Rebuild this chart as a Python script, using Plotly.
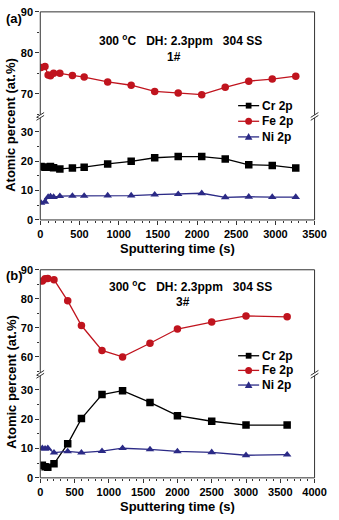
import plotly.graph_objects as go

W, H = 339, 520

# ---- panel (a): sample 1# ----
t_a = [10, 60, 100, 130, 170, 250, 410, 560, 860, 1160, 1460, 1760, 2060, 2360, 2660, 2960, 3260]
cr_a = [18.2, 18.0, 18.0, 18.2, 17.8, 17.4, 17.7, 18.0, 19.1, 20.0, 21.2, 21.6, 21.6, 20.8, 18.8, 18.6, 17.7]
fe_a = [76.4, 76.7, 74.6, 74.4, 75.0, 75.0, 74.5, 74.1, 72.9, 72.1, 70.6, 70.2, 69.8, 71.6, 73.1, 73.6, 74.3]
ni_a = [5.8, 6.2, 7.8, 8.0, 7.8, 8.1, 8.2, 8.2, 8.3, 8.3, 8.6, 8.8, 9.1, 7.7, 7.9, 7.8, 7.8]

# ---- panel (b): sample 3# ----
t_b = [30, 70, 110, 200, 400, 600, 900, 1200, 1600, 2000, 2500, 3000, 3600]
cr_b = [4.3, 3.8, 3.6, 4.8, 11.6, 20.2, 28.4, 29.7, 25.7, 21.2, 19.3, 18.0, 18.0]
fe_b = [86.1, 86.9, 87.0, 86.6, 79.3, 70.8, 62.2, 60.0, 64.7, 69.6, 72.0, 74.1, 73.8]
ni_b = [10.1, 9.9, 10.1, 8.6, 9.0, 8.6, 9.1, 10.1, 9.7, 9.0, 8.7, 7.7, 7.9]

names = ["Cr 2p", "Fe 2p", "Ni 2p"]
colors = ["#000000", "#c0141e", "#2b2a86"]
symbols = ["square", "circle", "triangle-up"]

FONT = "Liberation Sans, Arial, sans-serif"
AX = "#333333"


def px(x):
    return x / W


def py(y):
    return 1 - y / H


fig = go.Figure()

# series values paired with their y axis (lower / upper segment of the broken axis)
panel_a = [(cr_a, "y"), (fe_a, "y2"), (ni_a, "y")]
panel_b = [(cr_b, "y3"), (fe_b, "y4"), (ni_b, "y3")]

for xs, xa, panel in [(t_a, "x", panel_a), (t_b, "x2", panel_b)]:
    for i, (vals, ya) in enumerate(panel):
        fig.add_trace(go.Scatter(
            x=xs, y=vals, name=names[i], xaxis=xa, yaxis=ya, mode="lines+markers",
            line=dict(color=colors[i], width=1.3),
            marker=dict(symbol=symbols[i], size=7.5, color=colors[i]),
            showlegend=False,
        ))

x_dom = [px(39), px(326)]
tickfont = dict(family=FONT, size=11, color="black", weight="bold")

common_x = dict(domain=x_dom, ticks="outside", ticklen=4, tickwidth=1, tickcolor=AX,
                showgrid=False, zeroline=False, showline=False, tickfont=tickfont,
                minor=dict(ticks="outside", ticklen=2, dtick=100, tickcolor=AX, showgrid=False))
common_y = dict(ticks="outside", ticklen=4, tickwidth=1, tickcolor=AX,
                showgrid=False, zeroline=False, showline=False, tickfont=tickfont,
                minor=dict(ticks="outside", ticklen=2, dtick=5, tickcolor=AX, showgrid=False))

# panel (a) frame: top 6, break 113, bottom 219
# panel (b) frame: top 270, break 377, bottom 483
a_top, a_brk, a_bot = 6, 113, 219
b_top, b_brk, b_bot = 270, 377, 483

fig.update_layout(
    width=W, height=H,
    margin=dict(l=0, r=0, t=0, b=0),
    paper_bgcolor="white", plot_bgcolor="white",
    font=dict(family=FONT, color="black"),
    showlegend=False,
    xaxis=dict(common_x, anchor="y", range=[0, 3500], dtick=500),
    yaxis=dict(common_y, anchor="x", domain=[py(a_bot), py(a_brk)], range=[0, 35.3], dtick=10),
    yaxis2=dict(common_y, anchor="x", domain=[py(a_brk), py(a_top)], range=[64.5, 90], dtick=10),
    xaxis2=dict(common_x, anchor="y3", range=[0, 4000], dtick=500),
    yaxis3=dict(common_y, anchor="x2", domain=[py(b_bot), py(b_brk)], range=[0, 35.3], dtick=10),
    yaxis4=dict(common_y, anchor="x2", domain=[py(b_brk), py(b_top)], range=[54, 90], dtick=10),
)

shapes = []
for top, bot in [(a_top, a_bot), (b_top, b_bot)]:
    shapes.append(dict(type="rect", xref="paper", yref="paper",
                       x0=px(39), x1=px(326), y0=py(bot), y1=py(top),
                       line=dict(color=AX, width=1), fillcolor="rgba(0,0,0,0)"))

# axis-break marks on both vertical frame lines
for brk in (a_brk, b_brk):
    for xc in (39, 326):
        shapes.append(dict(type="rect", xref="paper", yref="paper",
                           x0=px(xc - 2), x1=px(xc + 2), y0=py(brk + 1.5), y1=py(brk - 1.5),
                           line=dict(width=0), fillcolor="white"))
        for dy in (-1.5, 1.5):
            shapes.append(dict(type="line", xref="paper", yref="paper",
                               x0=px(xc - 4), y0=py(brk + dy + 2.5),
                               x1=px(xc + 4), y1=py(brk + dy - 2.5),
                               line=dict(color=AX, width=1)))

bold13 = dict(family=FONT, size=13, color="black", weight="bold")
bold12 = dict(family=FONT, size=12, color="black", weight="bold")


def note(text, x, y, font, angle=0, anchor="center"):
    fig.add_annotation(text=text, xref="paper", yref="paper", x=px(x), y=py(y),
                       xanchor=anchor, yanchor="middle", showarrow=False,
                       font=font, textangle=angle)


# compact legend keys: short line with the series marker, then the label
def legend_key(i, row_y, x0=246, x1=268):
    c = colors[i]
    shapes.append(dict(type="line", xref="paper", yref="paper",
                       x0=px(x0), x1=px(x1), y0=py(row_y), y1=py(row_y),
                       line=dict(color=c, width=1.3)))
    xm = (x0 + x1) / 2
    if symbols[i] == "square":
        shapes.append(dict(type="rect", xref="paper", yref="paper",
                           x0=px(xm - 3), x1=px(xm + 3), y0=py(row_y + 3), y1=py(row_y - 3),
                           line=dict(width=0), fillcolor=c))
    elif symbols[i] == "circle":
        shapes.append(dict(type="circle", xref="paper", yref="paper",
                           x0=px(xm - 3.6), x1=px(xm + 3.6), y0=py(row_y + 3.6), y1=py(row_y - 3.6),
                           line=dict(width=0), fillcolor=c))
    else:
        path = "M{},{} L{},{} L{},{} Z".format(
            px(xm - 4), py(row_y + 3), px(xm + 4), py(row_y + 3), px(xm), py(row_y - 4))
        shapes.append(dict(type="path", xref="paper", yref="paper", path=path,
                           line=dict(width=0), fillcolor=c))
    note(names[i], x1 + 1, row_y, bold12, anchor="left")


for i, row_y in enumerate([102, 118, 134]):
    legend_key(i, row_y)
for i, row_y in enumerate([358, 373, 388]):
    legend_key(i, row_y)

fig.update_layout(shapes=shapes)

note("(a)", 12, 13, bold13)
note("(b)", 12, 276, bold13)
note("300 <sup>o</sup>C   DH: 2.3ppm   304 SS", 186, 35, bold12)
note("1#", 179, 52, bold12)
note("300 <sup>o</sup>C   DH: 2.3ppm   304 SS", 196, 287, bold12)
note("3#", 188, 303, bold12)
note("Atomic percent (at.%)", 8, 122, bold13, -90)
note("Atomic percent (at.%)", 8, 385, bold13, -90)
note("Sputtering time (s)", 183, 248, bold13)
note("Sputtering time (s)", 183, 512, bold13)

fig.write_html("out.html")
